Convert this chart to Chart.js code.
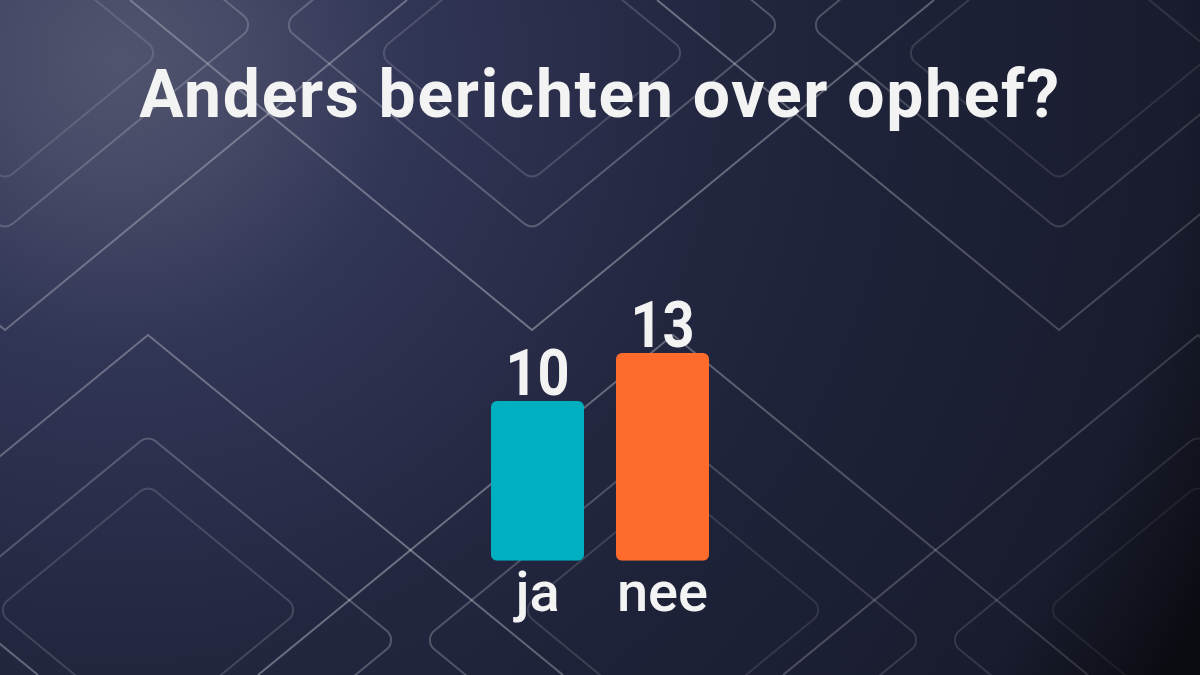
<!DOCTYPE html>
<html>
<head>
<meta charset="utf-8">
<script src="https://cdn.jsdelivr.net/npm/chart.js@4.4.1/dist/chart.umd.min.js"></script>
<style>
  html, body { margin: 0; padding: 0; background: #151a2c; }
  #wrap { position: relative; width: 1200px; height: 675px; overflow: hidden; }
  #chart { position: absolute; left: 0; top: 0; }
  #title {
    position: absolute; left: 0; top: 62px; width: 1200px;
    text-align: center; color: #f3f3f3; letter-spacing: 1.7px;
    font: 700 66px/66px Roboto, 'Liberation Sans', sans-serif;
  }
</style>
</head>
<body>
<div id="wrap">
  <canvas id="chart" width="1200" height="675"></canvas>
  <div id="title">Anders berichten over ophef?</div>
</div>
<script>
const categories = ['ja', 'nee'];
const counts = [10, 13];
const barColors = ['#00b0c0', '#ff6b2b'];

// diamond with rounded corners
function diamond(ctx, cx, cy, hw, hh, r) {
  ctx.beginPath();
  ctx.moveTo(cx + hw / 2, cy - hh / 2);
  ctx.arcTo(cx + hw, cy, cx, cy + hh, r);
  ctx.arcTo(cx, cy + hh, cx - hw, cy, r);
  ctx.arcTo(cx - hw, cy, cx, cy - hh, r);
  ctx.arcTo(cx, cy - hh, cx + hw, cy, r);
  ctx.closePath();
  ctx.stroke();
}

function fade(ctx, a) {
  const g = ctx.createLinearGradient(0, 0, 1200, 675);
  g.addColorStop(0, `rgba(255,255,255,${a * 0.7})`);
  g.addColorStop(0.45, `rgba(255,255,255,${a})`);
  g.addColorStop(1, `rgba(255,255,255,${a * 0.3})`);
  return g;
}

const background = {
  id: 'background',
  beforeDraw(chart) {
    const ctx = chart.ctx;
    ctx.save();
    const bg = ctx.createRadialGradient(120, 60, 0, 120, 60, 1250);
    bg.addColorStop(0, '#50546e');
    bg.addColorStop(0.09, '#474b67');
    bg.addColorStop(0.23, '#323656');
    bg.addColorStop(0.48, '#22263f');
    bg.addColorStop(0.62, '#1e2238');
    bg.addColorStop(0.85, '#191c2e');
    bg.addColorStop(0.97, '#0b0c12');
    bg.addColorStop(1, '#0a0b11');
    ctx.fillStyle = bg;
    ctx.fillRect(0, 0, chart.width, chart.height);

    ctx.lineWidth = 2;
    // top row: V shapes
    [5, 532, 1059].forEach(cx => {
      ctx.strokeStyle = fade(ctx, 0.34);
      ctx.beginPath();
      ctx.moveTo(cx - 402, 0);
      ctx.lineTo(cx, 330);
      ctx.lineTo(cx + 402, 0);
      ctx.stroke();
      ctx.strokeStyle = fade(ctx, 0.24);
      diamond(ctx, cx, 25, 250, 205, 12);
      ctx.strokeStyle = fade(ctx, 0.16);
      diamond(ctx, cx, 53, 155, 127, 12);
    });
    // bottom row: peaks
    [-377, 148, 673, 1198].forEach(cx => {
      ctx.strokeStyle = fade(ctx, 0.34);
      ctx.beginPath();
      ctx.moveTo(cx - 415, 675);
      ctx.lineTo(cx, 335);
      ctx.lineTo(cx + 415, 675);
      ctx.stroke();
      ctx.strokeStyle = fade(ctx, 0.24);
      diamond(ctx, cx, 640, 250, 205, 12);
      ctx.strokeStyle = fade(ctx, 0.16);
      diamond(ctx, cx, 610, 152, 125, 12);
    });
    ctx.restore();
  }
};

const valueLabels = {
  id: 'valueLabels',
  afterDatasetsDraw(chart) {
    const ctx = chart.ctx;
    const meta = chart.getDatasetMeta(0);
    ctx.save();
    ctx.fillStyle = '#f3f3f3';
    ctx.font = 'bold 65px Roboto, sans-serif';
    ctx.textAlign = 'center';
    ctx.textBaseline = 'alphabetic';
    meta.data.forEach((bar, i) => {
      ctx.save();
      ctx.translate(bar.x, bar.y - 6);
      ctx.scale(0.86, 1);
      ctx.fillText(String(counts[i]), 0, 0);
      ctx.restore();
    });
    ctx.restore();
  }
};

new Chart(document.getElementById('chart'), {
  type: 'bar',
  data: {
    labels: categories,
    datasets: [{
      data: counts,
      backgroundColor: barColors,
      borderRadius: 6,
      borderSkipped: false,
      barPercentage: 0.744,
      categoryPercentage: 1
    }]
  },
  options: {
    responsive: false,
    animation: false,
    devicePixelRatio: 1,
    layout: { padding: { left: 475, right: 475, top: 353, bottom: 41 } },
    plugins: {
      legend: { display: false },
      tooltip: { enabled: false }
    },
    scales: {
      x: {
        grid: { display: false, drawTicks: false },
        border: { display: false },
        ticks: {
          color: '#f3f3f3',
          padding: 3,
          font: { family: 'Roboto, sans-serif', size: 56, weight: '500' }
        }
      },
      y: { display: false, min: 0, max: 13 }
    }
  },
  plugins: [background, valueLabels]
});
</script>
</body>
</html>
